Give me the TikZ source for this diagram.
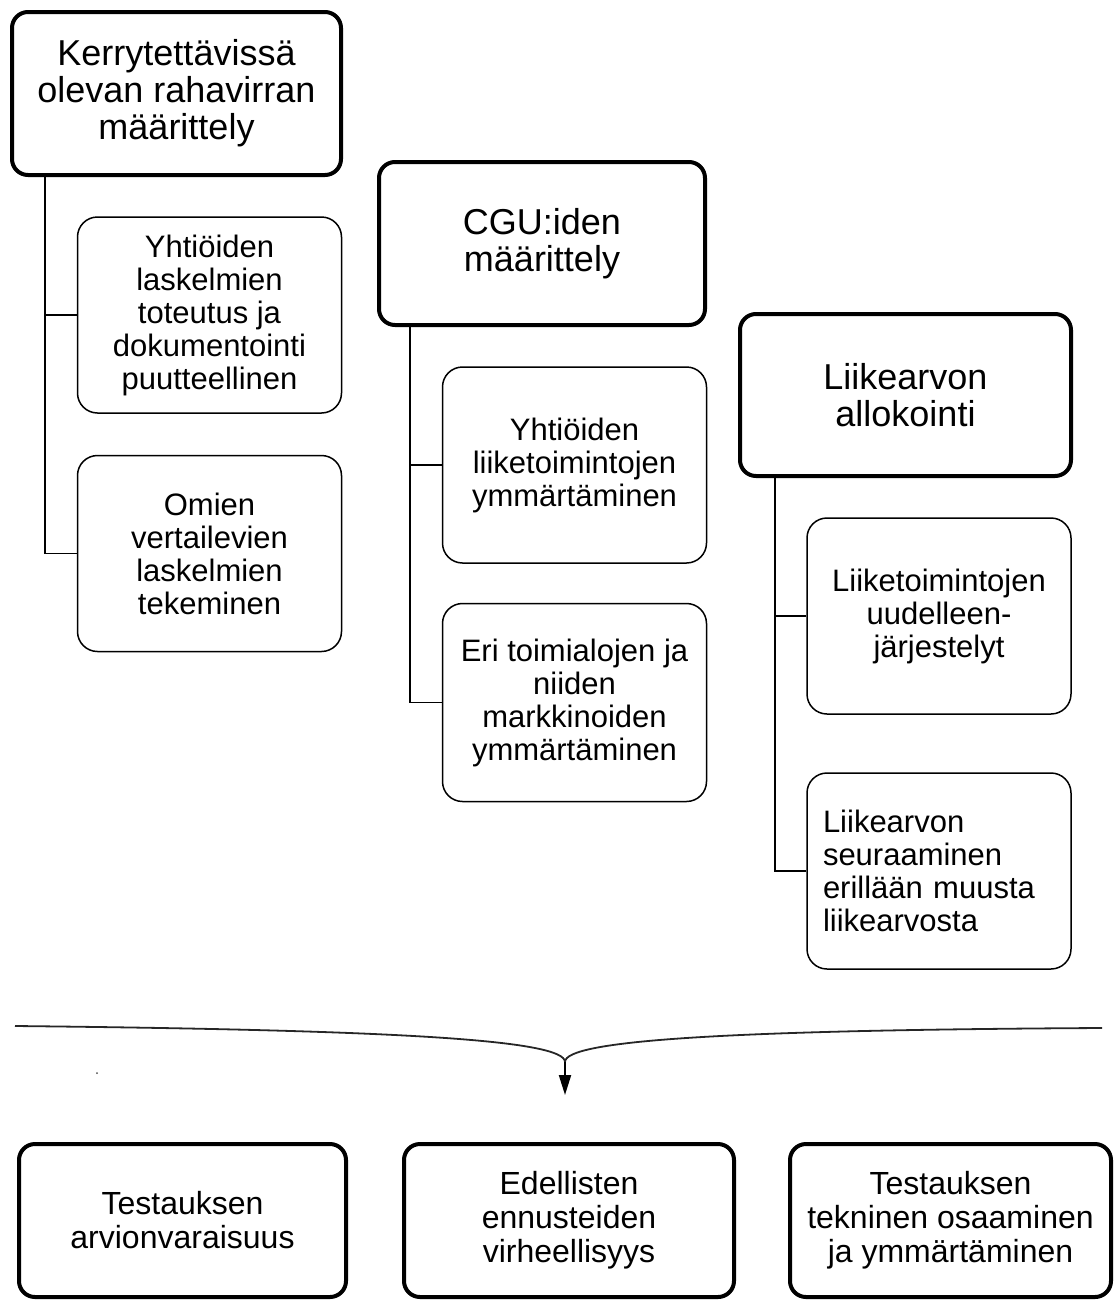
\documentclass[tikz,border=0pt]{standalone}
\usepackage{fontspec}
\setmainfont{Liberation Sans}
\usetikzlibrary{calc,arrows.meta}
\begin{document}
\begin{tikzpicture}[x=1pt,y=-1pt,
  head/.style={draw, line width=4pt, rounded corners=16pt, align=center,
    font=\fontsize{36}{37}\selectfont, inner sep=0pt},
  sub/.style={draw, line width=1.5pt, rounded corners=20pt, align=center,
    font=\fontsize{31}{33}\selectfont, inner sep=0pt, minimum width=264pt, minimum height=196pt},
  res/.style={draw, line width=4pt, rounded corners=16pt, align=center,
    font=\fontsize{32}{34}\selectfont, inner sep=0pt, minimum height=153pt},
  link/.style={line width=1.5pt},
  flow/.style={line width=1.8pt, black!85}]
\useasboundingbox (0,0) rectangle (1115,1302);

% header boxes
\node[head, minimum width=329pt, minimum height=163pt] (h1) at (176.5,93.5)
  {Kerrytettävissä\\olevan rahavirran\\määrittely};
\node[head, minimum width=326pt, minimum height=163pt] (h2) at (542,243.5)
  {CGU:iden\\määrittely};
\node[head, minimum width=331pt, minimum height=162pt] (h3) at (905.5,395)
  {Liikearvon\\allokointi};

% sub boxes
\node[sub] (c1a) at (209.5,315) {Yhtiöiden\\laskelmien\\toteutus ja\\dokumentointi\\puutteellinen};
\node[sub] (c1b) at (209.5,553.5) {Omien\\vertailevien\\laskelmien\\tekeminen};
\node[sub] (c2a) at (574.5,465) {Yhtiöiden\\liiketoimintojen\\ymmärtäminen};
\node[sub, minimum height=198pt] (c2b) at (574.5,702.5) {Eri toimialojen ja\\niiden\\markkinoiden\\ymmärtäminen};
\node[sub] (c3a) at (939,616) {Liiketoimintojen\\uudelleen-\\järjestelyt};
\node[sub, align=left, text width=232pt] (c3b) at (939,871) {Liikearvon\\seuraaminen\\erillään muusta\\liikearvosta};

% connectors
\draw[link] ($(h1.south west)+(35,0)$) |- (c1a.west);
\draw[link] ($(h1.south west)+(35,0)$) |- (c1b.west);
\draw[link] ($(h2.south west)+(33,0)$) |- (c2a.west);
\draw[link] ($(h2.south west)+(33,0)$) |- (c2b.west);
\draw[link] ($(h3.south west)+(37,0)$) |- (c3a.west);
\draw[link] ($(h3.south west)+(37,0)$) |- (c3b.west);

% merging curve and arrow
\coordinate (bl) at (15,1026);
\coordinate (br) at (1102,1028);
\coordinate (m) at (565,1062);
\coordinate (tip) at (565,1095);
\draw[flow] (bl) .. controls (400,1030) and (565,1040) .. (m);
\draw[flow] (br) .. controls (730,1030) and (565,1040) .. (m);
\draw[line width=2pt, -{Triangle[length=20pt,width=12pt]}] (m) -- (tip);
\fill[black!70] (97,1073) circle (1pt);

% result boxes
\node[res, minimum width=327pt] (b1) at (182.5,1220.5) {Testauksen\\arvionvaraisuus};
\node[res, minimum width=330pt] (b2) at (569,1220.5) {Edellisten\\ennusteiden\\virheellisyys};
\node[res, minimum width=321pt] (b3) at (950.5,1220.5) {Testauksen\\tekninen osaaminen\\ja ymmärtäminen};
\end{tikzpicture}
\end{document}
